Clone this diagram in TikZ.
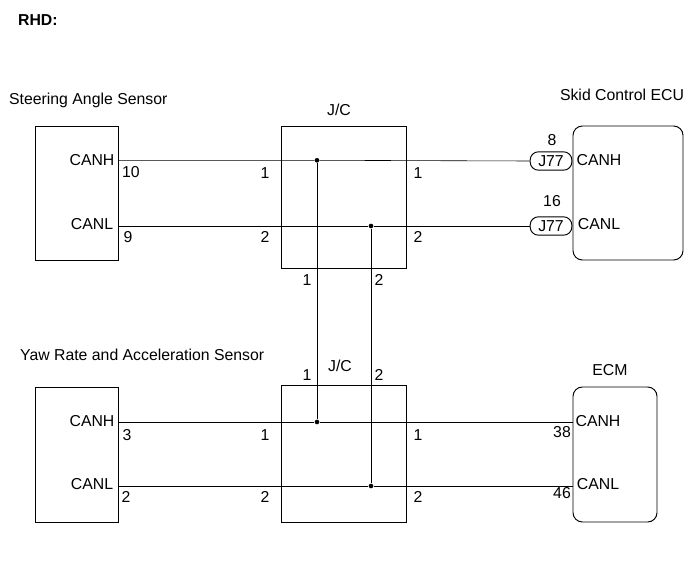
\documentclass[tikz,border=0pt]{standalone}
\usepackage{fontspec}
\setmainfont{Liberation Sans}
\usetikzlibrary{positioning}
\begin{document}
\begin{tikzpicture}[x=0.03cm, y=-0.03cm, font=\fontsize{13.5}{15}\selectfont,
  box/.style={draw, thick, inner sep=0pt},
  ecu/.style={draw, thick, rounded corners=8pt, inner sep=0pt},
  wire/.style={draw, line width=0.5pt},
  pin/.style={inner sep=1pt},
  splice/.style={circle, fill, inner sep=0pt, minimum size=4pt},
  jconn/.style={draw, thick, rounded corners=7pt, minimum width=1.25cm, minimum height=0.55cm, inner sep=0pt}]
\useasboundingbox (0,0) rectangle (690,562);

\node[font=\bfseries\fontsize{13.5}{15}\selectfont, anchor=west] (rhd) at (14,20) {RHD:};

% boxes
\draw[box] (35,126) rectangle (118,260);
\draw[box] (281,126) rectangle (406,268);
\draw[ecu] (573,126) rectangle (683,260);
\draw[box] (35,387) rectangle (118,522);
\draw[box] (281,385) rectangle (406,522);
\draw[ecu] (573,387) rectangle (657,522);

% titles
\node[anchor=west] (sas) at (5,100) {Steering Angle Sensor};
\node (jc1) at (339,110) {J/C};
\node (skid) at (622,95) {Skid Control ECU};
\node[anchor=west] (yaw) at (16,355) {Yaw Rate and Acceleration Sensor};
\node (jc2) at (340,366) {J/C};
\node (ecm) at (610,370) {ECM};

% inner labels
\node (sh) at (92,160) {CANH};
\node (sl) at (92,224) {CANL};
\node (eh) at (599,160) {CANH};
\node (el) at (599,224) {CANL};
\node (yh) at (92,421) {CANH};
\node (yl) at (92,484) {CANL};
\node (mh) at (598,421) {CANH};
\node (ml) at (598,484) {CANL};

% connectors
\node[jconn] (j77a) at (551,161) {J77};
\node[jconn] (j77b) at (551,226) {J77};
\node (p8) at (552,140) {8};
\node (p16) at (552,201) {16};

% wire points
\coordinate (sasH) at (118,160.3);
\coordinate (sasL) at (118,226);
\coordinate (yawH) at (118,422);
\coordinate (yawL) at (118,486);
\coordinate (ecmH) at (573,422);
\coordinate (ecmL) at (573,486);
\node[splice] (s1) at (317,160.3) {};
\node[splice] (s2) at (371,226) {};
\node[splice] (s3) at (317,422) {};
\node[splice] (s4) at (371,486) {};

\draw[wire] (sasH) -- (s1) -- (j77a.west);
\draw[wire] (sasL) -- (s2) -- (j77b.west);
\draw[wire] (yawH) -- (s3) -- (ecmH);
\draw[wire] (yawL) -- (s4) -- (ecmL);
\draw[wire] (s1) -- (s3);
\draw[wire] (s2) -- (s4);

% pin numbers
\foreach \t/\x/\y in {10/131/172, 9/128/237, 1/265/173, 2/265/237, 1/418/173, 2/418/237,
  1/307/280, 2/379/280, 1/307/375, 2/379/375,
  3/127/435, 2/126/497, 1/265/435, 2/265/497, 1/418/435, 2/418/497, 38/562/432, 46/562/493}
  \node[pin] at (\x,\y) {\t};
\end{tikzpicture}
\end{document}
